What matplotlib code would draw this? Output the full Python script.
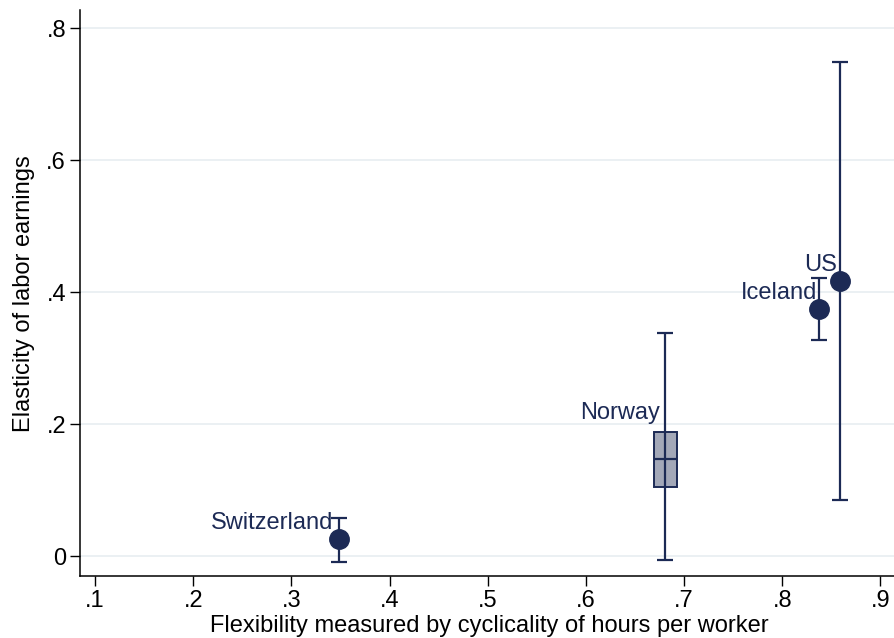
import matplotlib.pyplot as plt

plt.rcParams['font.family'] = ['Liberation Sans', 'DejaVu Sans']

navy = '#1c2a55'
box_fill = '#a3a8b8'
grid_col = '#e8eef1'

# point estimates with confidence bounds
countries = ['Switzerland', 'Iceland', 'US']
flex = [0.349, 0.838, 0.859]
elast = [0.026, 0.374, 0.417]
ci_low = [-0.008, 0.327, 0.085]
ci_high = [0.058, 0.421, 0.748]

# Norway shown as a box: quartiles, median and whiskers
nor_x = 0.681
nor_q1, nor_med, nor_q3 = 0.105, 0.148, 0.189
nor_lo, nor_hi = -0.006, 0.338

xticks = [0.1, 0.2, 0.3, 0.4, 0.5, 0.6, 0.7, 0.8, 0.9]
yticks = [0, 0.2, 0.4, 0.6, 0.8]

fig = plt.figure(figsize=(8.94, 6.38), dpi=100)
ax = fig.add_axes([0.0895, 0.097, 0.915, 0.887])

for y in yticks:
    ax.axhline(y, color=grid_col, lw=1.2, zorder=0)

yerr = [[e - l for e, l in zip(elast, ci_low)], [h - e for e, h in zip(elast, ci_high)]]
ax.errorbar(flex, elast, yerr=yerr, fmt='o', color=navy, ms=14, lw=1.6,
            capsize=5.5, capthick=1.6, zorder=3)

# Norway box with whiskers
ax.errorbar([nor_x], [nor_med], yerr=[[nor_med - nor_lo], [nor_hi - nor_med]],
            fmt='none', ecolor=navy, lw=1.6, capsize=5.5, capthick=1.6, zorder=2)
ax.bar([nor_x], [nor_q3 - nor_q1], bottom=[nor_q1], width=0.024,
       color=box_fill, edgecolor=navy, linewidth=1.4, zorder=3)
ax.hlines(nor_med, nor_x - 0.012, nor_x + 0.012, color=navy, lw=1.6, zorder=4)
ax.vlines(nor_x, nor_q1, nor_q3, color=navy, lw=1.6, zorder=4)

# labels
lab_pos = {'Switzerland': (-0.006, 0.024), 'Iceland': (-0.002, 0.025), 'US': (-0.003, 0.024)}
for c, x, y in zip(countries, flex, elast):
    dx, dy = lab_pos[c]
    ax.text(x + dx, y + dy, c, ha='right', va='center', fontsize=17, color=navy, zorder=5)
ax.text(nor_x - 0.005, 0.217, 'Norway', ha='right', va='center', fontsize=17, color=navy, zorder=5)

ax.set_xlim(0.0847, 0.918)
ax.set_ylim(-0.030, 0.827)
ax.set_xticks(xticks)
ax.set_xticklabels(['.1', '.2', '.3', '.4', '.5', '.6', '.7', '.8', '.9'])
ax.set_yticks(yticks)
ax.set_yticklabels(['0', '.2', '.4', '.6', '.8'])
ax.tick_params(direction='out', length=7, width=1, labelsize=17, pad=3)

for s in ['top', 'right']:
    ax.spines[s].set_visible(False)
for s in ['left', 'bottom']:
    ax.spines[s].set_linewidth(1.1)

ax.set_xlabel('Flexibility measured by cyclicality of hours per worker', fontsize=17, labelpad=2)
ax.set_ylabel('Elasticity of labor earnings', fontsize=17, labelpad=8)

fig.savefig('out.png', dpi=100)
